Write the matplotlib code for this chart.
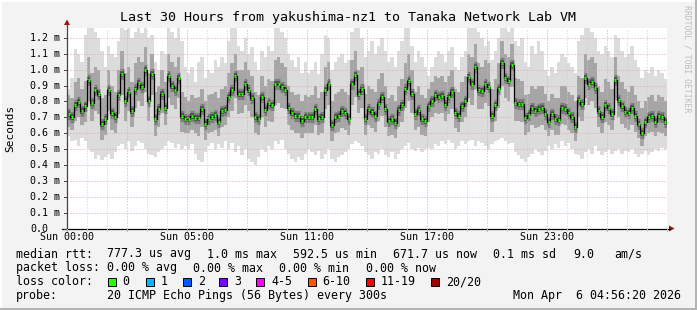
import numpy as np
import matplotlib
matplotlib.use('Agg')
import matplotlib.pyplot as plt
from matplotlib.transforms import blended_transform_factory
from matplotlib.patches import Polygon, Rectangle

# ---- data (ms), one sample every 10 minutes, 30 hours ----
STEP_H = 1 / 6

median = [
    0.72, 0.70, 0.78, 0.795, 0.74, 0.77, 0.935, 0.79, 0.87, 0.85, 0.66, 0.69,
    0.87, 0.73, 0.70, 0.84, 0.975, 0.80, 0.86, 0.74, 0.88, 0.915, 0.89, 1.00,
    0.80, 0.975, 0.69, 0.75, 0.85, 0.76, 0.96, 0.90, 0.87, 0.95, 0.71, 0.69,
    0.69, 0.71, 0.695, 0.695, 0.75, 0.66, 0.69, 0.70, 0.715, 0.67, 0.74, 0.745,
    0.83, 0.87, 0.96, 0.85, 0.85, 0.91, 0.87, 0.82, 0.70, 0.69, 0.826, 0.745,
    0.79, 0.775, 0.91, 0.91, 0.89, 0.87, 0.76, 0.725, 0.71, 0.71, 0.675, 0.70,
    0.70, 0.70, 0.755, 0.69, 0.70, 0.87, 0.91, 0.65, 0.705, 0.71, 0.74, 0.73,
    0.69, 0.91, 0.965, 0.85, 0.88, 0.69, 0.755, 0.735, 0.71, 0.785, 0.825, 0.75,
    0.68, 0.69, 0.665, 0.745, 0.78, 0.88, 0.93, 0.845, 0.72, 0.745, 0.69, 0.68,
    0.77, 0.80, 0.84, 0.83, 0.834, 0.78, 0.826, 0.86, 0.73, 0.71, 0.77, 0.80,
    0.955, 0.91, 1.02, 0.87, 0.865, 0.91, 0.89, 0.71, 0.78, 0.876, 1.04, 0.945,
    0.93, 1.03, 0.79, 0.785, 0.784, 0.696, 0.713, 0.759, 0.738, 0.75, 0.76, 0.72,
    0.67, 0.72, 0.69, 0.685, 0.76, 0.755, 0.725, 0.70, 0.64, 0.81, 0.785, 0.95,
    0.91, 0.925, 0.885, 0.74, 0.70, 0.78, 0.76, 0.72, 0.935, 0.81, 0.77, 0.735,
    0.725, 0.76, 0.71, 0.66, 0.60, 0.67, 0.70, 0.71, 0.67, 0.71, 0.70, 0.67,
]

smoke_max = [
    0.88, 0.95, 1.13, 1.10, 1.05, 1.22, 1.26, 1.26, 1.24, 1.20, 1.12, 1.02,
    1.15, 1.10, 1.08, 1.18, 1.26, 1.25, 1.26, 1.20, 1.24, 1.26, 1.23, 1.26,
    1.20, 1.22, 1.05, 1.00, 1.12, 1.10, 1.26, 1.24, 1.20, 1.26, 1.18, 1.02,
    0.98, 1.02, 0.92, 1.05, 1.08, 0.95, 1.00, 0.98, 1.06, 1.02, 1.08, 1.04,
    1.18, 1.26, 1.26, 1.15, 1.12, 1.20, 1.10, 1.14, 1.05, 1.00, 1.12, 1.08,
    1.15, 1.12, 1.26, 1.26, 1.24, 1.20, 1.10, 1.06, 1.02, 1.08, 0.98, 1.05,
    0.98, 1.00, 1.05, 0.97, 1.10, 1.22, 1.20, 1.00, 1.05, 1.08, 1.10, 1.04,
    1.06, 1.24, 1.26, 1.26, 1.20, 1.08, 1.12, 1.18, 1.10, 1.15, 1.20, 1.12,
    1.05, 1.08, 1.02, 1.12, 1.18, 1.26, 1.26, 1.15, 1.05, 1.12, 1.08, 1.02,
    0.96, 1.02, 1.08, 1.12, 1.10, 1.05, 1.12, 1.14, 1.02, 1.00, 1.08, 1.12,
    1.26, 1.26, 1.26, 1.24, 1.20, 1.15, 1.18, 1.06, 1.12, 1.20, 1.26, 1.26,
    1.24, 1.26, 1.18, 1.15, 1.20, 1.05, 1.02, 1.15, 1.10, 1.18, 1.12, 1.00,
    0.96, 1.02, 0.98, 1.05, 1.10, 1.08, 1.04, 1.02, 0.98, 1.18, 1.22, 1.26,
    1.26, 1.24, 1.20, 1.12, 1.10, 1.15, 1.12, 1.08, 1.22, 1.20, 1.12, 1.08,
    1.10, 1.15, 1.06, 1.02, 0.95, 1.00, 0.98, 1.02, 0.96, 1.00, 0.98, 0.94,
]

smoke_min = [
    0.58, 0.55, 0.56, 0.52, 0.57, 0.55, 0.50, 0.48, 0.44, 0.46, 0.43, 0.45,
    0.47, 0.44, 0.48, 0.52, 0.53, 0.50, 0.55, 0.49, 0.52, 0.55, 0.54, 0.50,
    0.47, 0.46, 0.45, 0.48, 0.50, 0.52, 0.55, 0.54, 0.51, 0.53, 0.50, 0.52,
    0.50, 0.53, 0.47, 0.43, 0.42, 0.48, 0.52, 0.54, 0.50, 0.53, 0.51, 0.55,
    0.50, 0.54, 0.48, 0.52, 0.46, 0.50, 0.44, 0.42, 0.40, 0.45, 0.50, 0.48,
    0.52, 0.50, 0.55, 0.53, 0.56, 0.50, 0.47, 0.44, 0.42, 0.45, 0.43, 0.47,
    0.50, 0.48, 0.46, 0.49, 0.44, 0.47, 0.50, 0.44, 0.42, 0.45, 0.46, 0.48,
    0.50, 0.53, 0.55, 0.54, 0.52, 0.48, 0.46, 0.44, 0.48, 0.47, 0.50, 0.46,
    0.45, 0.48, 0.44, 0.47, 0.50, 0.52, 0.54, 0.50, 0.49, 0.51, 0.48, 0.50,
    0.51, 0.50, 0.53, 0.52, 0.55, 0.53, 0.56, 0.54, 0.50, 0.52, 0.55, 0.53,
    0.55, 0.56, 0.52, 0.55, 0.54, 0.52, 0.50, 0.53, 0.55, 0.56, 0.57, 0.55,
    0.53, 0.54, 0.48, 0.46, 0.44, 0.42, 0.45, 0.47, 0.50, 0.48, 0.46, 0.49,
    0.52, 0.50, 0.53, 0.51, 0.55, 0.52, 0.54, 0.50, 0.47, 0.46, 0.44, 0.48,
    0.50, 0.47, 0.52, 0.49, 0.46, 0.48, 0.50, 0.47, 0.49, 0.50, 0.47, 0.49,
    0.48, 0.50, 0.47, 0.45, 0.47, 0.49, 0.46, 0.48, 0.50, 0.49, 0.51, 0.50,
]

smoke_q_hi = [
    0.84, 0.82, 0.92, 0.95, 0.88, 0.93, 1.08, 0.98, 1.02, 1.00, 0.82, 0.84,
    1.00, 0.90, 0.86, 1.00, 1.12, 0.98, 1.02, 0.92, 1.04, 1.08, 1.05, 1.14,
    0.98, 1.10, 0.86, 0.90, 1.00, 0.92, 1.10, 1.05, 1.02, 1.08, 0.86, 0.83,
    0.80, 0.84, 0.82, 0.83, 0.88, 0.80, 0.84, 0.85, 0.86, 0.82, 0.88, 0.90,
    0.98, 1.04, 1.10, 1.00, 1.00, 1.05, 1.00, 0.96, 0.86, 0.84, 0.96, 0.90,
    0.94, 0.93, 1.06, 1.08, 1.04, 1.02, 0.90, 0.86, 0.84, 0.85, 0.80, 0.84,
    0.83, 0.84, 0.90, 0.82, 0.86, 1.02, 1.05, 0.80, 0.85, 0.86, 0.88, 0.86,
    0.84, 1.06, 1.12, 1.00, 1.02, 0.85, 0.90, 0.88, 0.86, 0.94, 0.98, 0.90,
    0.82, 0.84, 0.80, 0.90, 0.94, 1.04, 1.10, 1.00, 0.86, 0.90, 0.84, 0.82,
    0.88, 0.92, 0.96, 0.95, 0.96, 0.92, 0.96, 1.00, 0.88, 0.86, 0.92, 0.96,
    1.10, 1.08, 1.16, 1.04, 1.02, 1.06, 1.04, 0.88, 0.94, 1.04, 1.18, 1.10,
    1.08, 1.16, 0.95, 0.94, 0.93, 0.84, 0.85, 0.90, 0.88, 0.90, 0.90, 0.85,
    0.80, 0.85, 0.82, 0.82, 0.90, 0.90, 0.86, 0.84, 0.80, 0.96, 0.95, 1.10,
    1.06, 1.08, 1.04, 0.90, 0.86, 0.94, 0.92, 0.88, 1.08, 0.96, 0.92, 0.88,
    0.86, 0.90, 0.84, 0.80, 0.76, 0.80, 0.83, 0.84, 0.80, 0.84, 0.83, 0.80,
]

smoke_q_lo = [
    0.64, 0.62, 0.68, 0.70, 0.65, 0.67, 0.80, 0.68, 0.74, 0.72, 0.56, 0.59,
    0.74, 0.62, 0.60, 0.72, 0.84, 0.68, 0.74, 0.64, 0.76, 0.80, 0.77, 0.86,
    0.68, 0.84, 0.58, 0.64, 0.73, 0.65, 0.82, 0.78, 0.75, 0.82, 0.61, 0.60,
    0.60, 0.62, 0.60, 0.58, 0.64, 0.56, 0.60, 0.61, 0.62, 0.58, 0.64, 0.65,
    0.70, 0.74, 0.82, 0.72, 0.73, 0.78, 0.74, 0.70, 0.60, 0.59, 0.70, 0.64,
    0.68, 0.67, 0.78, 0.79, 0.76, 0.75, 0.65, 0.62, 0.60, 0.60, 0.57, 0.60,
    0.60, 0.60, 0.65, 0.59, 0.60, 0.75, 0.78, 0.55, 0.60, 0.61, 0.63, 0.62,
    0.59, 0.78, 0.83, 0.73, 0.76, 0.59, 0.65, 0.63, 0.61, 0.68, 0.71, 0.64,
    0.58, 0.59, 0.57, 0.64, 0.67, 0.76, 0.80, 0.73, 0.62, 0.64, 0.59, 0.58,
    0.67, 0.70, 0.73, 0.72, 0.73, 0.68, 0.72, 0.75, 0.63, 0.61, 0.67, 0.70,
    0.82, 0.78, 0.88, 0.75, 0.75, 0.79, 0.77, 0.61, 0.68, 0.76, 0.90, 0.82,
    0.80, 0.89, 0.68, 0.68, 0.67, 0.59, 0.61, 0.65, 0.63, 0.64, 0.65, 0.62,
    0.58, 0.62, 0.59, 0.59, 0.66, 0.65, 0.62, 0.60, 0.55, 0.70, 0.68, 0.82,
    0.78, 0.80, 0.76, 0.64, 0.60, 0.67, 0.65, 0.62, 0.81, 0.70, 0.66, 0.63,
    0.62, 0.65, 0.61, 0.57, 0.52, 0.58, 0.60, 0.61, 0.58, 0.61, 0.60, 0.58,
]

y_ticks = [0.0, 0.1, 0.2, 0.3, 0.4, 0.5, 0.6, 0.7, 0.8, 0.9, 1.0, 1.1, 1.2]
x_tick_hours = [0, 6, 12, 18, 24]
x_tick_labels = ['Sun 00:00', 'Sun 05:00', 'Sun 11:00', 'Sun 17:00', 'Sun 23:00']

loss_labels = ['0', '1', '2', '3', '4-5', '6-10', '11-19', '20/20']
loss_colors = ['#26ff00', '#00b8ff', '#0059ff', '#7e00ff', '#ff00ff',
               '#ff5500', '#ff0000', '#a10000']

TITLE = 'Last 30 Hours from yakushima-nz1 to Tanaka Network Lab VM'

W, H = 697, 310
MONO = 'DejaVu Sans Mono'


def fx(x):
    return x / W


def fy(y):
    return 1 - y / H


def main():
    med = np.array(median)
    t = np.arange(len(med)) * STEP_H
    t_e = np.append(t, t[-1] + STEP_H)

    def ext(a):
        a = np.asarray(a, dtype=float)
        return np.append(a, a[-1])

    fig = plt.figure(figsize=(W / 100, H / 100), dpi=100, facecolor='#f3f3f3')
    px_per_ms = 158.8
    ax = fig.add_axes([fx(67), fy(228.5), 600 / W, 200.5 / H])
    ax.set_xlim(0, 30)
    ax.set_ylim(0, 200.5 / px_per_ms)
    ax.set_facecolor('white')
    for s in ax.spines.values():
        s.set_visible(False)
    ax.set_xticks([])
    ax.set_yticks([])

    # smoke
    ax.fill_between(t_e, ext(smoke_min), ext(smoke_max), step='post',
                    color='#dcdcdc', lw=0, zorder=1)
    ax.fill_between(t_e, ext(smoke_q_lo), ext(smoke_q_hi), step='post',
                    color='#a6a6a6', lw=0, zorder=1.5)
    # dark core around the median (horizontal only, like rrd steps)
    ax.hlines(med, t, t + STEP_H, colors='#7c7c7c', lw=8, zorder=2)
    ax.hlines(med, t, t + STEP_H, colors='#4c4c4c', lw=4, zorder=2.1)

    # grid on top of the smoke
    dot = (0, (1, 2))
    for h in range(1, 30):
        major = h % 3 == 0
        ax.axvline(h, color='#e4a4a4' if major else '#cfcfcf', lw=0.72,
                   ls=dot, zorder=3)
    for v in y_ticks[1:]:
        ax.axhline(v, color='#e4a4a4', lw=0.72, ls=dot, zorder=3)

    # median
    ax.step(t_e, ext(med), where='post', color='black', lw=0.9, zorder=4)
    ax.hlines(med, t + 0.04, t + STEP_H - 0.04, colors=loss_colors[0],
              lw=2.2, zorder=5)

    # axes lines + arrows
    fig.add_artist(plt.Line2D([fx(67), fx(67)], [fy(228.5), fy(24)],
                              color='#444444', lw=0.9))
    fig.add_artist(plt.Line2D([fx(62), fx(670)], [fy(228.5), fy(228.5)],
                              color='black', lw=0.9))
    fig.add_artist(Polygon([[fx(64), fy(25)], [fx(70), fy(25)], [fx(67), fy(19.5)]],
                           closed=True, color='#a01010', lw=0))
    fig.add_artist(Polygon([[fx(669), fy(225.5)], [fx(669), fy(231.5)], [fx(674.5), fy(228.5)]],
                           closed=True, color='#a01010', lw=0))

    # y tick labels and marks
    ty = blended_transform_factory(fig.transFigure, ax.transData)
    for v in y_ticks:
        lab = '0.0' if v == 0 else f'{v:.1f} m'
        fig.text(fx(30), v, lab, transform=ty, ha='left', va='center',
                 family=MONO, fontsize=7.2, color='black')
        fig.add_artist(plt.Line2D([fx(63.5), fx(67)], [v, v], transform=ty,
                                  color='#444444', lw=0.7))

    # x tick labels and marks
    tx = blended_transform_factory(ax.transData, fig.transFigure)
    for h, lab in zip(x_tick_hours, x_tick_labels):
        fig.text(h, fy(237), lab, transform=tx, ha='center', va='center',
                 family=MONO, fontsize=7.2, color='black')
    for h in range(0, 31):
        fig.add_artist(plt.Line2D([h, h], [fy(228.5), fy(231)], transform=tx,
                                  color='#e4a4a4' if h % 3 == 0 else '#cfcfcf',
                                  lw=0.7))

    # title, axis label, watermark
    fig.text(0.5, fy(18), TITLE, ha='center', va='center', family=MONO,
             fontsize=9.6, color='black')
    fig.text(fx(10), fy(128), 'Seconds', rotation=90, ha='center', va='center',
             family=MONO, fontsize=8, color='black')
    fig.text(fx(687), fy(5), 'RRDTOOL / TOBI OETIKER', rotation=270,
             ha='center', va='top', family=MONO, fontsize=5.9, color='#bdbdbd')

    # legend block
    fs = 8.4
    rows = [
        (254, [(16, 'median rtt:'), (107, '777.3 us avg'), (207, '1.0 ms max'),
               (293.3, '592.5 us min'), (393.3, '671.7 us now'),
               (493.3, '0.1 ms sd'), (573.3, '9.0'), (614, 'am/s')]),
        (268, [(16, 'packet loss:'), (107.3, '0.00 % avg'), (193.3, '0.00 % max'),
               (279.3, '0.00 % min'), (365.7, '0.00 % now')]),
        (281.7, [(16, 'loss color:')]),
        (296, [(16, 'probe:'), (107.3, '20 ICMP Echo Pings (56 Bytes) every 300s'),
               (512.7, 'Mon Apr  6 04:56:20 2026')]),
    ]
    for y, items in rows:
        for x, s in items:
            fig.text(fx(x), fy(y), s, ha='left', va='center', family=MONO,
                     fontsize=fs, color='black')

    box_x = [107.7, 145.7, 182.7, 219.3, 256, 307.7, 365.7, 430.7]
    for bx, lab, col in zip(box_x, loss_labels, loss_colors):
        fig.add_artist(Rectangle((fx(bx), fy(285.5)), 8 / W, 8 / H,
                                 facecolor=col, edgecolor='black', lw=0.7))
        fig.text(fx(bx + 15), fy(281.7), lab, ha='left', va='center',
                 family=MONO, fontsize=fs, color='black')

    # frame
    fig.add_artist(plt.Line2D([0, 1], [fy(0.5), fy(0.5)], color='white', lw=1.4))
    fig.add_artist(plt.Line2D([fx(0.5), fx(0.5)], [0, 1], color='white', lw=1.4))
    fig.add_artist(plt.Line2D([0, 1], [fy(308.5), fy(308.5)], color='#b4b4b4', lw=2.2))
    fig.add_artist(plt.Line2D([fx(695.5), fx(695.5)], [0, 1], color='#b4b4b4', lw=2.2))

    fig.savefig('out.png', dpi=100, facecolor=fig.get_facecolor())


if __name__ == '__main__':
    main()
